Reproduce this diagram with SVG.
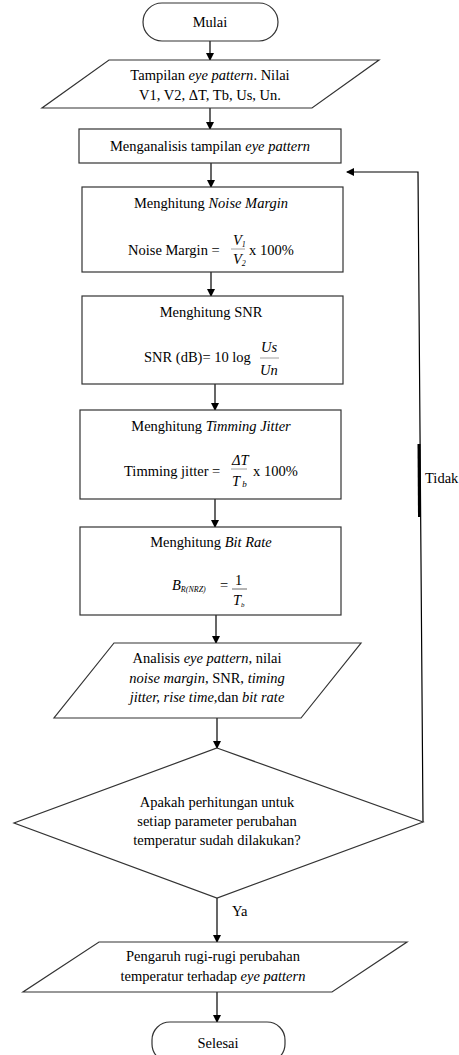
<svg xmlns="http://www.w3.org/2000/svg" width="459" height="1055" viewBox="0 0 459 1055" font-family="'Liberation Serif', 'DejaVu Serif', serif">
<defs>
<marker id="ah" markerWidth="8" markerHeight="8" refX="7" refY="4" orient="auto" markerUnits="userSpaceOnUse">
<path d="M0,0 L8,4 L0,8 Z" fill="#000"/>
</marker>
<style>
.s{fill:#fff;stroke:#333;stroke-width:1.2}
.c{stroke:#000;stroke-width:1.2;fill:none}
text{font-family:'Liberation Serif','DejaVu Serif',serif;font-size:14.5px;fill:#000}
.m{text-anchor:middle}
.i{font-style:italic}
</style>
</defs>
<rect width="459" height="1055" fill="#fff"/>
<g id="connectors">
<line class="c" x1="210" y1="41" x2="210" y2="60" marker-end="url(#ah)"/>
<line class="c" x1="210" y1="108" x2="210" y2="129" marker-end="url(#ah)"/>
<line class="c" x1="211" y1="163" x2="211" y2="187" marker-end="url(#ah)"/>
<line class="c" x1="211" y1="272" x2="211" y2="296" marker-end="url(#ah)"/>
<line class="c" x1="215" y1="384" x2="215" y2="410" marker-end="url(#ah)"/>
<line class="c" x1="215" y1="499" x2="215" y2="527" marker-end="url(#ah)"/>
<line class="c" x1="216" y1="615" x2="216" y2="643" marker-end="url(#ah)"/>
<line class="c" x1="217" y1="718" x2="217" y2="748" marker-end="url(#ah)"/>
<line class="c" x1="217" y1="898" x2="217" y2="942" marker-end="url(#ah)"/>
<line class="c" x1="217" y1="992" x2="217" y2="1022" marker-end="url(#ah)"/>
<polyline class="c" points="423,822 418,172 347,172" marker-end="url(#ah)"/>
<line x1="419" y1="444" x2="419.5" y2="517" stroke="#000" stroke-width="3"/>
<text x="425" y="483">Tidak</text>
<text x="232" y="916">Ya</text>
</g>
<g id="mulai">
<rect class="s" x="143" y="3" width="135" height="38" rx="19"/>
<text class="m" x="210" y="27">Mulai</text>
</g>
<g id="input1">
<polygon class="s" points="109,60 379,60 312,108 42,108"/>
<text class="m" x="210" y="80">Tampilan <tspan class="i">eye pattern</tspan>. Nilai</text>
<text class="m" x="210" y="100">V1, V2, ΔT, Tb, Us, Un.</text>
</g>
<g id="analisis">
<rect class="s" x="79" y="129" width="262" height="34"/>
<text class="m" x="210" y="151">Menganalisis tampilan <tspan class="i">eye pattern</tspan></text>
</g>
<g id="noise">
<rect class="s" x="82" y="187" width="261" height="85"/>
<text class="m" x="211" y="208">Menghitung <tspan class="i">Noise Margin</tspan></text>
<text x="128" y="255">Noise Margin = </text>
<text class="i" x="233" y="245" font-size="11" fill="#555">V<tspan font-size="8" dy="2">1</tspan></text>
<line x1="231" y1="249" x2="245" y2="249" stroke="#888" stroke-width="0.8"/>
<text class="i" x="233" y="264" font-size="11" fill="#555">V<tspan font-size="8" dy="2">2</tspan></text>
<text x="249" y="255">x 100%</text>
</g>
<g id="snr">
<rect class="s" x="82" y="296" width="261" height="88"/>
<text class="m" x="211" y="317">Menghitung SNR</text>
<text x="144" y="362">SNR (dB)= 10 log</text>
<text class="i" x="261" y="352" fill="#555">Us</text>
<line x1="260" y1="358" x2="279" y2="358" stroke="#888" stroke-width="0.8"/>
<text class="i" x="260" y="375" fill="#555">Un</text>
</g>
<g id="jitter">
<rect class="s" x="80" y="410" width="261" height="89"/>
<text class="m" x="211" y="431">Menghitung <tspan class="i">Timming Jitter</tspan></text>
<text x="124" y="476">Timming jitter = </text>
<text class="i" x="232" y="465" font-size="11" fill="#555">ΔT</text>
<line x1="231" y1="469" x2="247" y2="469" stroke="#888" stroke-width="0.8"/>
<text class="i" x="232" y="486" font-size="11" fill="#555">T<tspan font-size="9" dy="1"> b</tspan></text>
<text x="253" y="476">x  100%</text>
</g>
<g id="bitrate">
<rect class="s" x="80" y="527" width="261" height="88"/>
<text class="m" x="211" y="547">Menghitung <tspan class="i">Bit Rate</tspan></text>
<text class="i" x="172" y="590" font-size="12" fill="#333">B<tspan font-size="8" dy="2">R(NRZ)</tspan></text>
<text x="220" y="590" font-size="13">=</text>
<text x="235" y="585" font-size="13">1</text>
<line x1="232" y1="589" x2="247" y2="589" stroke="#444" stroke-width="0.8"/>
<text class="i" x="233" y="605" font-size="13">T<tspan font-size="7" dy="2">b</tspan></text>
</g>
<g id="output1">
<polygon class="s" points="114,643 361,643 301,718 54,718"/>
<text class="m" x="207" y="663">Analisis <tspan class="i">eye pattern</tspan>, nilai</text>
<text class="m" x="207" y="683"><tspan class="i">noise margin</tspan>, SNR, <tspan class="i">timing</tspan></text>
<text class="m" x="207" y="702"><tspan class="i">jitter, rise time</tspan>,dan <tspan class="i">bit rate</tspan></text>
</g>
<g id="decision">
<polygon class="s" points="217,748 423,822 217,898 14,823"/>
<text class="m" x="217" y="807">Apakah perhitungan untuk</text>
<text class="m" x="217" y="826">setiap parameter perubahan</text>
<text class="m" x="217" y="845">temperatur sudah dilakukan?</text>
</g>
<g id="output2">
<polygon class="s" points="99,942 407,942 332,992 23,992"/>
<text class="m" x="213" y="961">Pengaruh rugi-rugi perubahan</text>
<text class="m" x="213" y="981">temperatur terhadap <tspan class="i">eye pattern</tspan></text>
</g>
<g id="selesai">
<rect class="s" x="152" y="1022" width="133" height="40" rx="18"/>
<text class="m" x="218" y="1048">Selesai</text>
</g>
</svg>
